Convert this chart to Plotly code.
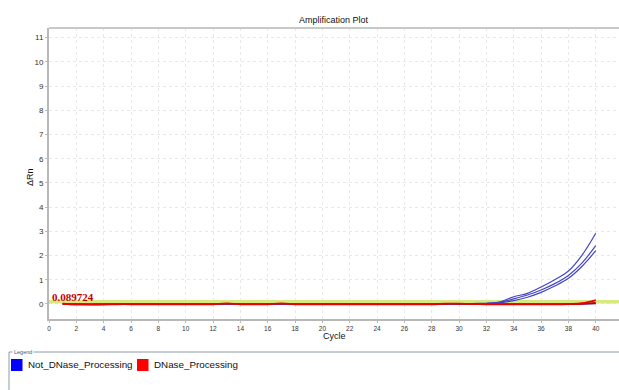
import plotly.graph_objects as go

cycles = list(range(1, 41))

not_dnase_1 = [0.01, 0.0, -0.01, -0.01, 0.0, 0.0, 0.0, 0.0, -0.01, 0.0, 0.0, 0.0, 0.0, 0.0, -0.01, 0.0, 0.0, 0.0, 0.0, 0.0,
               -0.01, 0.0, 0.0, 0.0, 0.0, 0.0, 0.0, 0.0, 0.01, 0.01, 0.02, 0.03, 0.09, 0.30, 0.44, 0.70, 1.00, 1.36, 2.02, 2.92]
not_dnase_2 = [0.01, 0.0, -0.01, 0.0, 0.0, 0.0, -0.01, 0.0, 0.0, 0.0, -0.01, 0.0, 0.0, 0.0, 0.0, 0.0, -0.01, 0.0, 0.0, 0.0,
               0.0, 0.0, -0.01, 0.0, 0.0, 0.0, 0.0, 0.01, 0.0, 0.01, 0.01, 0.02, 0.07, 0.21, 0.37, 0.58, 0.84, 1.18, 1.70, 2.41]
not_dnase_3 = [0.0, -0.01, -0.01, 0.0, 0.0, -0.01, 0.0, 0.0, 0.0, -0.01, 0.0, 0.0, 0.0, -0.01, 0.0, 0.0, 0.0, 0.0, -0.01, 0.0,
               0.0, 0.0, 0.0, -0.01, 0.0, 0.0, 0.0, 0.0, 0.01, 0.0, 0.01, 0.02, 0.05, 0.14, 0.28, 0.48, 0.74, 1.06, 1.56, 2.20]

dnase_1 = [0.01, -0.01, -0.02, -0.02, -0.01, -0.01, -0.01, -0.01, -0.01, -0.01, -0.01, -0.01, 0.02, -0.01, -0.01, -0.01, 0.02, -0.01, -0.01, -0.01,
           -0.01, -0.01, -0.01, -0.01, -0.01, -0.01, -0.01, -0.01, 0.01, 0.01, 0.0, -0.01, -0.01, -0.01, -0.01, -0.01, -0.01, 0.0, 0.03, 0.16]
dnase_2 = [0.0, -0.01, -0.02, -0.01, -0.01, -0.01, -0.01, -0.01, -0.01, -0.01, -0.01, -0.01, 0.0, -0.01, -0.01, -0.01, 0.0, -0.01, -0.01, -0.01,
           -0.01, -0.01, -0.01, -0.01, -0.01, -0.01, -0.01, -0.01, 0.0, 0.0, 0.0, -0.01, -0.01, -0.01, -0.01, -0.01, -0.01, -0.01, 0.01, 0.05]
dnase_3 = [0.0, -0.02, -0.02, -0.02, -0.01, -0.01, -0.01, -0.01, -0.01, -0.01, -0.01, -0.01, -0.01, -0.01, -0.01, -0.01, -0.01, -0.01, -0.01, -0.01,
           -0.01, -0.01, -0.01, -0.01, -0.01, -0.01, -0.01, -0.01, -0.01, 0.0, -0.01, -0.01, -0.01, -0.01, -0.01, -0.01, -0.01, -0.01, 0.0, 0.02]

threshold = 0.089724
threshold_label = "0.089724"
x_ticks = list(range(0, 41, 2))
y_ticks = list(range(0, 12))

legend_names = ["Not_DNase_Processing", "DNase_Processing"]
legend_colors = ["#0000ff", "#ff0000"]

# Pixel layout helpers
W, H = 619, 390
L, R, T, B = 49, 0, 28, 71
PW, PH = W - L - R, H - T - B


def px(x):
    return (x - L) / PW


def py(y):
    return (H - B - y) / PH


fig = go.Figure()

fig.add_trace(go.Scatter(x=[0, 41.7], y=[threshold, threshold], mode="lines",
                         line=dict(color="#d6ea80", width=3.5), hoverinfo="skip", showlegend=False))

for ys, c in zip([dnase_3, dnase_2], ["#6a1060", "#c00018"]):
    fig.add_trace(go.Scatter(x=cycles, y=ys, mode="lines", line=dict(color=c, width=1.5),
                             showlegend=False, line_shape="spline"))
for ys in [not_dnase_1, not_dnase_2, not_dnase_3]:
    fig.add_trace(go.Scatter(x=cycles, y=ys, mode="lines", line=dict(color="#4545c4", width=1.2),
                             showlegend=False, line_shape="spline"))
fig.add_trace(go.Scatter(x=cycles, y=dnase_1, mode="lines", line=dict(color="#ee0000", width=1.8),
                         showlegend=False, line_shape="spline"))

annotations = [
    dict(text="Amplification Plot", x=0.5, y=py(20), xref="paper", yref="paper", showarrow=False,
         font=dict(size=9, color="#111", family="Liberation Sans, Arial"), yanchor="middle"),
    dict(text="Cycle", x=0.5, y=py(336), xref="paper", yref="paper", showarrow=False,
         font=dict(size=9, color="#111", family="Liberation Sans, Arial"), yanchor="middle"),
    dict(text="ΔRn", x=px(30), y=py(177), xref="paper", yref="paper", showarrow=False, textangle=-90,
         font=dict(size=9, color="#111", family="Liberation Sans, Arial"), xanchor="center", yanchor="middle"),
    dict(text="<b>" + threshold_label + "</b>", x=0.05, y=threshold, xref="x", yref="y", showarrow=False,
         xanchor="left", yanchor="bottom", yshift=-3,
         font=dict(size=11, color="#c80000", family="Liberation Serif, Times New Roman")),
    dict(text="Legend", x=px(12), y=py(351.5), xref="paper", yref="paper", showarrow=False,
         xanchor="left", yanchor="middle", font=dict(size=5.5, color="#3a5a80", family="Liberation Sans, Arial"),
         bgcolor="white"),
]

shapes = [
    # legend frame
    dict(type="line", xref="paper", yref="paper", x0=px(9), x1=px(619), y0=py(352), y1=py(352),
         line=dict(color="#8a9aaa", width=1), layer="below"),
    dict(type="line", xref="paper", yref="paper", x0=px(9), x1=px(9), y0=py(352), y1=py(392),
         line=dict(color="#8a9aaa", width=1)),
    # top border
    dict(type="line", xref="paper", yref="paper", x0=0, x1=1, y0=1, y1=1,
         line=dict(color="#c8c8c8", width=2)),
]

x_starts = [11, 137]
for name, col, xs in zip(legend_names, legend_colors, x_starts):
    shapes.append(dict(type="rect", xref="paper", yref="paper", x0=px(xs), x1=px(xs + 11.5),
                       y0=py(371), y1=py(359), fillcolor=col, line=dict(width=0)))
    annotations.append(dict(text=name, x=px(xs + 15), y=py(365), xref="paper", yref="paper",
                            showarrow=False, xanchor="left", yanchor="middle",
                            font=dict(size=9.8, color="#111", family="Liberation Sans, Arial")))

fig.update_layout(
    width=W, height=H, margin=dict(l=L, r=R, t=T, b=B),
    plot_bgcolor="white", paper_bgcolor="white", showlegend=False,
    annotations=annotations, shapes=shapes,
    xaxis=dict(range=[0, 41.7], tickvals=x_ticks, ticktext=[str(v) for v in x_ticks],
               showgrid=True, gridcolor="#e8e8e8", griddash="dot", gridwidth=1,
               showline=True, linecolor="#b8b8b8", linewidth=2, zeroline=False,
               ticks="outside", ticklen=2, tickcolor="#b8b8b8",
               tickfont=dict(size=6.5, color="#333", family="Liberation Sans, Arial")),
    yaxis=dict(range=[-0.62, 11.4], tickvals=y_ticks, ticktext=[str(v) for v in y_ticks],
               showgrid=True, gridcolor="#e8e8e8", griddash="dot", gridwidth=1,
               showline=True, linecolor="#b8b8b8", linewidth=2, zeroline=False,
               ticks="outside", ticklen=2, tickcolor="#b8b8b8",
               tickfont=dict(size=8, color="#333", family="Liberation Sans, Arial")),
)

fig.write_html("out.html", config={"displayModeBar": False},
               post_script="document.body.style.margin='0';")
